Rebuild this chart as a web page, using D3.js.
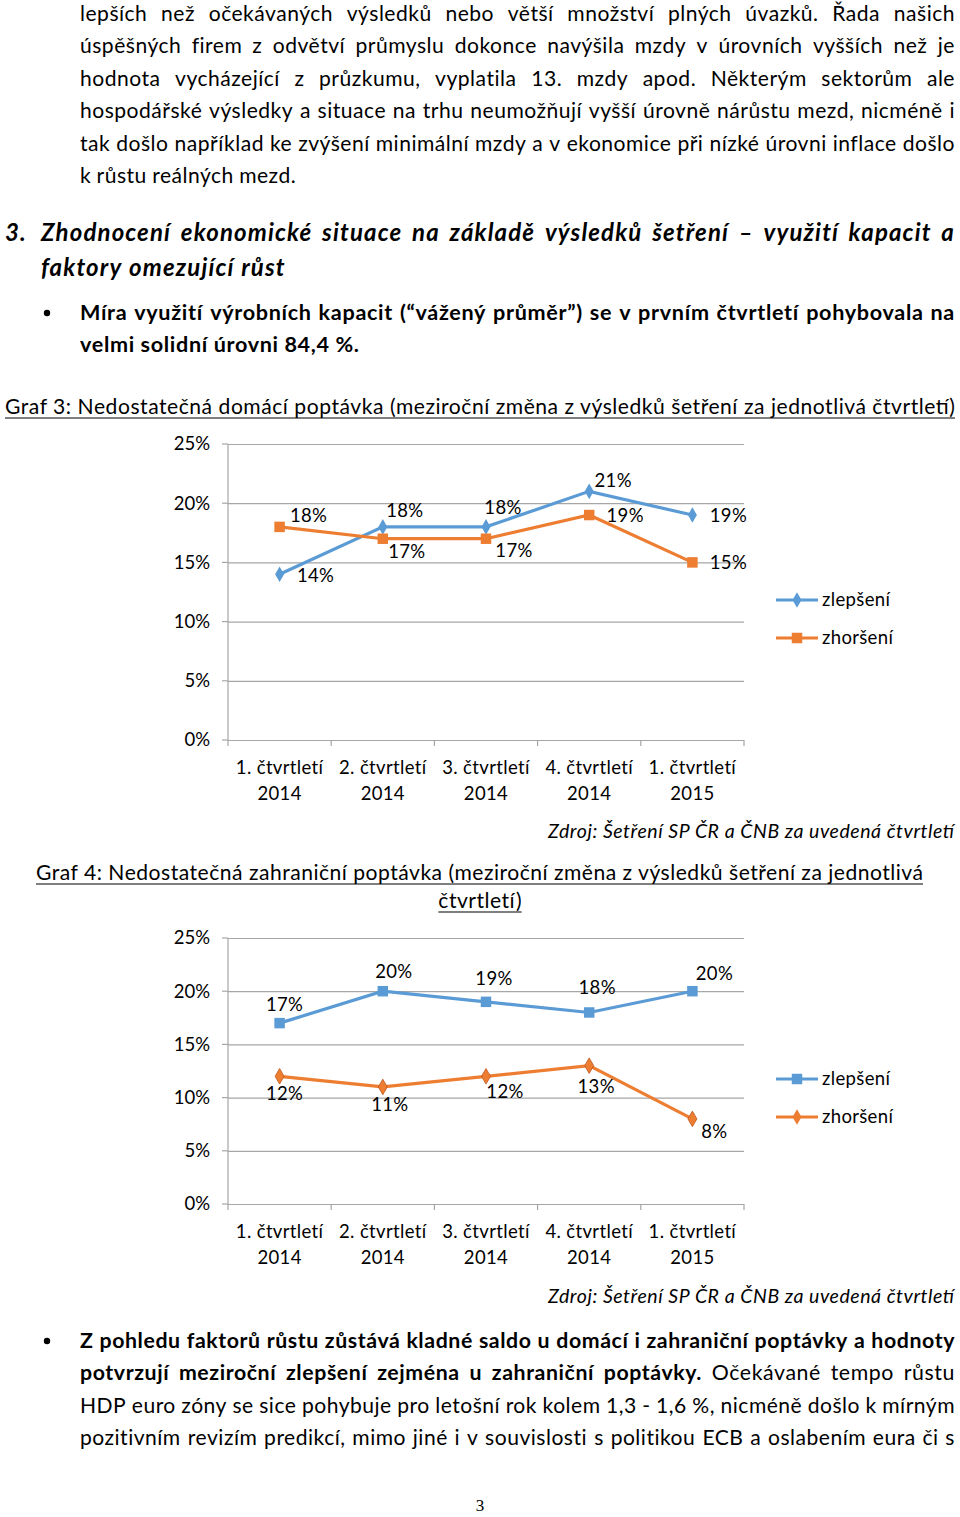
<!DOCTYPE html>
<html>
<head>
<meta charset="utf-8">
<script src="https://cdn.jsdelivr.net/npm/d3@7"></script>
<style>
  body { margin: 0; background: #fff; }
  svg { display: block; }
</style>
</head>
<body>
<svg id="page" width="960" height="1517"></svg>
<script>
// data
var quarterLabels = ["1. čtvrtletí", "2. čtvrtletí", "3. čtvrtletí", "4. čtvrtletí", "1. čtvrtletí"]
var yearLabels = ["2014", "2014", "2014", "2014", "2015"]
var seriesNames = ["zlepšení", "zhoršení"]
var yTicks = [0, 5, 10, 15, 20, 25]

// Graf 3 - domaci poptavka
var g3Zlepseni = [14, 18, 18, 21, 19]
var g3Zhorseni = [18, 17, 17, 19, 15]
// Graf 4 - zahranicni poptavka
var g4Zlepseni = [17, 20, 19, 18, 20]
var g4Zhorseni = [12, 11, 12, 13, 8]

var blue = "#5B9BD5", orange = "#ED7D31"
var bodyFont = "Lato, 'Open Sans', sans-serif"

var svg = d3.select("#page")

function styleText(t, size, bold, italic) {
  return t.style("font-family", bodyFont)
    .style("font-size", size + "px")
    .style("font-weight", bold ? "bold" : "normal")
    .style("font-style", italic ? "italic" : "normal")
    .style("fill", "#000")
}

// font size + letter spacing so that a line of natural spacing fills the width
function fitLine(str, size, bold, italic, width) {
  var t = styleText(svg.append("text").attr("xml:space", "preserve"), size, bold, italic).text(str)
  var w = t.node().getComputedTextLength()
  t.remove()
  var s = size * Math.pow(width / w, 0.6)
  return { size: s, ls: (width - w * s / size) / str.length }
}

// lays out one line of words between x0 and x1 (justified) or from x0 (plain)
function textLine(y, x0, x1, words, o) {
  o = o || {}
  var size = o.size || 20
  var ls = o.ls || 0
  var nodes = words.map(function(w) {
    return styleText(svg.append("text").attr("y", y), size, w[1], o.italic).text(w[0])
  })
  var widths = nodes.map(function(n, i) { return n.node().getComputedTextLength() + ls * words[i][0].length })
  nodes.forEach(function(n) { n.style("letter-spacing", ls + "px") })
  var total = d3.sum(widths)
  var space = size * 0.23 + ls
  var gap = x1 && words.length > 1 ? (x1 - x0 - total) / (words.length - 1) : space
  var x = x0
  nodes.forEach(function(n, i) {
    n.attr("x", x)
    x += widths[i] + gap
  })
}

function words(str, bold) {
  return str.split(" ").map(function(w) { return [w, bold] })
}

// top paragraph
var para1 = [
  "lepších než očekávaných výsledků nebo větší množství plných úvazků. Řada našich",
  "úspěšných firem z odvětví průmyslu dokonce navýšila mzdy v úrovních vyšších než je",
  "hodnota vycházející z průzkumu, vyplatila 13. mzdy apod. Některým sektorům ale",
  "hospodářské výsledky a situace na trhu neumožňují vyšší úrovně nárůstu mezd, nicméně i",
  "tak došlo například ke zvýšení minimální mzdy a v ekonomice při nízké úrovni inflace došlo"
]
var fitBody = fitLine(para1[4], 19.5, false, false, 872)
para1.forEach(function(l, i) { textLine(21 + i * 32.4, 80, 955, words(l, false), fitBody) })
textLine(183, 80, null, words("k růstu reálných mezd.", false), fitBody)

// heading 3
var headLine = "Zhodnocení ekonomické situace na základě výsledků šetření – využití kapacit a"
var fitHead = fitLine(headLine, 20.5, true, true, 880)
fitHead.italic = true
textLine(241, 5, null, [["3.", true]], fitHead)
textLine(241, 41, 955, words(headLine, true), fitHead)
textLine(276, 41, null, words("faktory omezující růst", true), fitHead)

// bullet 1
var b1 = "Míra využití výrobních kapacit (“vážený průměr”) se v prvním čtvrtletí pohybovala na"
var fitB1 = fitLine(b1, 19.5, true, false, 862)
svg.append("circle").attr("cx", 47).attr("cy", 313).attr("r", 3.2).attr("fill", "#000")
textLine(320, 80, 955, words(b1, true), fitB1)
textLine(352, 80, null, words("velmi solidní úrovni 84,4 %.", true), fitB1)

// underlined caption line
function caption(y, x0, x1, str, center) {
  var t = styleText(svg.append("text").attr("y", y), fitBody.size, false, false).text(str)
  var w = t.node().getComputedTextLength()
  if (x1) {
    t.attr("x", x0).attr("textLength", x1 - x0).attr("lengthAdjust", "spacing")
    w = x1 - x0
  } else {
    t.style("letter-spacing", fitBody.ls + "px")
    w = w + fitBody.ls * str.length
    t.attr("x", center - w / 2)
    x0 = center - w / 2
  }
  svg.append("line")
    .attr("x1", x0).attr("x2", x0 + w)
    .attr("y1", y + 4).attr("y2", y + 4)
    .attr("stroke", "#000").attr("stroke-width", 1.2)
}

caption(414, 5, 955, "Graf 3: Nedostatečná domácí poptávka (meziroční změna z výsledků šetření za jednotlivá čtvrtletí)")

var chartSize = 18.5
var chartLs = 0.35

function lineChart(top, bottom, zlepseni, zhorseni, markers, labelPos, legendY, sourceY) {
  var x = d3.scaleBand().domain(d3.range(quarterLabels.length)).range([228, 744])
  var y = d3.scaleLinear().domain([0, 25]).range([bottom, top])
  var g = svg.append("g")

  // grid + y labels
  g.append("g")
    .attr("transform", "translate(228,0)")
    .call(d3.axisLeft(y).tickValues(yTicks).tickSize(-516).tickPadding(18).tickFormat(function(d) { return d + "%" }))
    .call(function(a) {
      a.select(".domain").remove()
      a.selectAll(".tick line").attr("stroke", "#a6a6a6").attr("stroke-width", 1.2)
      a.selectAll(".tick text")
        .style("font-family", bodyFont).style("font-size", chartSize + "px").style("fill", "#000")
    })
  // left axis line with small ticks
  g.append("line").attr("x1", 228).attr("x2", 228).attr("y1", top).attr("y2", bottom)
    .attr("stroke", "#a6a6a6").attr("stroke-width", 1.2)
  g.selectAll(".ltick").data(yTicks).enter().append("line")
    .attr("x1", 222).attr("x2", 228).attr("y1", d => y(d)).attr("y2", d => y(d))
    .attr("stroke", "#a6a6a6").attr("stroke-width", 1.2)

  // x axis
  var bounds = d3.range(quarterLabels.length + 1).map(function(i) { return 228 + i * x.step() })
  g.selectAll(".xtick").data(bounds).enter().append("line")
    .attr("x1", d => d).attr("x2", d => d).attr("y1", bottom).attr("y2", bottom + 6)
    .attr("stroke", "#a6a6a6").attr("stroke-width", 1.2)
  var xl = g.selectAll(".xl").data(quarterLabels).enter().append("text")
    .attr("x", (d, i) => x(i) + x.bandwidth() / 2)
    .attr("text-anchor", "middle")
    .style("font-family", bodyFont).style("font-size", chartSize + "px").style("letter-spacing", chartLs + "px")
  xl.append("tspan").attr("x", (d, i) => x(i) + x.bandwidth() / 2).attr("y", bottom + 34).text(d => d)
  xl.append("tspan").attr("x", (d, i) => x(i) + x.bandwidth() / 2).attr("y", bottom + 60).text((d, i) => yearLabels[i])

  var cx = function(d, i) { return x(i) + x.bandwidth() / 2 }
  var line = d3.line().x(cx).y(d => y(d))

  ;[[zlepseni, blue, markers[0]], [zhorseni, orange, markers[1]]].forEach(function(s, k) {
    g.append("path").datum(s[0]).attr("d", line)
      .attr("fill", "none").attr("stroke", s[1]).attr("stroke-width", 3.2)
    g.selectAll(".m" + k).data(s[0]).enter().append("path")
      .attr("d", d3.symbol().type(s[2] === "diamond" ? d3.symbolDiamond : d3.symbolSquare).size(s[2] === "diamond" ? 70 : 110))
      .attr("transform", (d, i) => "translate(" + cx(d, i) + "," + y(d) + ")")
      .attr("fill", s[1])
      .attr("stroke", s[2] === "diamond" && k === 1 ? "#c0561a" : "none")
      .attr("stroke-width", 0.8)
    g.selectAll(".l" + k).data(s[0]).enter().append("text")
      .attr("x", (d, i) => cx(d, i) + labelPos[k][i][0])
      .attr("y", (d, i) => y(d) + labelPos[k][i][1] + 6)
      .attr("text-anchor", "middle")
      .style("font-family", bodyFont).style("font-size", chartSize + "px").style("letter-spacing", chartLs + "px")
      .text(d => d + "%")

    // legend
    var ly = legendY + k * 38
    g.append("line").attr("x1", 776).attr("x2", 818).attr("y1", ly).attr("y2", ly)
      .attr("stroke", s[1]).attr("stroke-width", 3.2)
    g.append("path")
      .attr("d", d3.symbol().type(s[2] === "diamond" ? d3.symbolDiamond : d3.symbolSquare).size(s[2] === "diamond" ? 70 : 110))
      .attr("transform", "translate(797," + ly + ")")
      .attr("fill", s[1])
    g.append("text").attr("x", 822).attr("y", ly + 6)
      .style("font-family", bodyFont).style("font-size", chartSize + "px").style("letter-spacing", chartLs + "px")
      .text(seriesNames[k])
  })

  g.append("text").attr("x", 548).attr("y", sourceY + 6)
    .attr("textLength", 406).attr("lengthAdjust", "spacing")
    .style("font-family", bodyFont).style("font-size", "19.5px").style("font-style", "italic")
    .text("Zdroj: Šetření SP ČR a ČNB za uvedená čtvrtletí")
}

// label offsets from point (middle of text, center y)
var g3LabelPos = [
  [[36, 2], [22, -16], [17, -19], [24, -10], [36, 1]],
  [[29, -11], [24, 13], [28, 12], [36, 1], [36, 1]]
]
var g4LabelPos = [
  [[5, -18], [11, -19], [8, -23], [8, -24], [22, -17]],
  [[5, 18], [7, 18], [19, 16], [7, 21], [22, 13]]
]

lineChart(444, 740, g3Zlepseni, g3Zhorseni, ["diamond", "square"], g3LabelPos, 600, 832)

caption(880, 36, 923, "Graf 4: Nedostatečná zahraniční poptávka (meziroční změna z výsledků šetření za jednotlivá")
caption(908, null, null, "čtvrtletí)", 480)

lineChart(938, 1204, g4Zlepseni, g4Zhorseni, ["square", "diamond"], g4LabelPos, 1079, 1297)

// bullet 2
var b2 = "Z pohledu faktorů růstu zůstává kladné saldo u domácí i zahraniční poptávky a hodnoty"
var fitB2 = fitLine(b2, 19.5, true, false, 872)
svg.append("circle").attr("cx", 47).attr("cy", 1341).attr("r", 3.2).attr("fill", "#000")
textLine(1348, 80, 955, words(b2, true), fitB2)
var l2 = words("potvrzují meziroční zlepšení zejména u zahraniční", true)
  .concat([["poptávky.", true]])
  .concat(words("Očekávané tempo růstu", false))
textLine(1380, 80, 955, l2, fitB2)
textLine(1413, 80, 955, words("HDP euro zóny se sice pohybuje pro letošní rok kolem 1,3 - 1,6 %, nicméně došlo k mírným", false), fitBody)
textLine(1445, 80, 955, words("pozitivním revizím predikcí, mimo jiné i v souvislosti s politikou ECB a oslabením eura či s", false), fitBody)

svg.append("text").attr("x", 480).attr("y", 1511).attr("text-anchor", "middle")
  .style("font-family", "'Liberation Serif', serif").style("font-size", "17px")
  .text("3")
</script>
</body>
</html>
